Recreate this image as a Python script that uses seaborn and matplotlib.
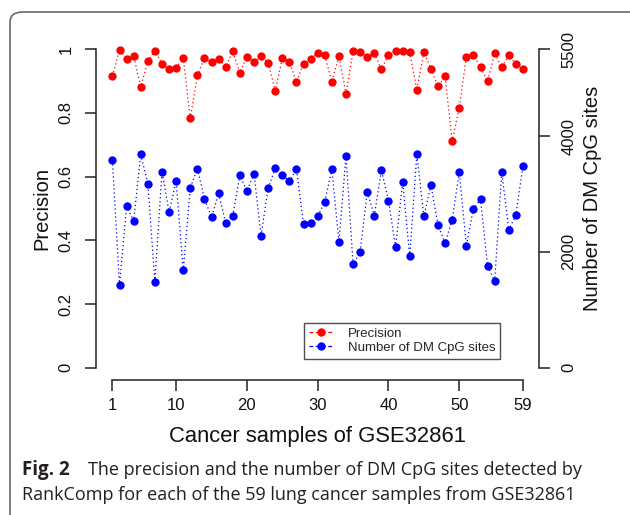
import numpy as np
import matplotlib
matplotlib.use("Agg")
import matplotlib.pyplot as plt
from matplotlib.lines import Line2D
from matplotlib.patches import FancyBboxPatch
import pandas as pd
import seaborn as sns

# ===============================
# DATA
# ===============================
samples = list(range(1, 60))

precision = [
    0.916, 0.999, 0.970, 0.979, 0.883, 0.963, 0.996, 0.955, 0.937, 0.942,
    0.973, 0.784, 0.918, 0.974, 0.961, 0.970, 0.945, 0.994, 0.926, 0.977,
    0.960, 0.980, 0.957, 0.870, 0.972, 0.961, 0.898, 0.955, 0.970, 0.988,
    0.981, 0.898, 0.980, 0.860, 0.994, 0.992, 0.975, 0.987, 0.937, 0.983,
    0.995, 0.995, 0.991, 0.872, 0.992, 0.938, 0.884, 0.915, 0.711, 0.817,
    0.975, 0.983, 0.943, 0.900, 0.987, 0.943, 0.982, 0.953, 0.937,
]

dm_sites = [
    3581, 1426, 2793, 2534, 3684, 3179, 1483, 3386, 2690, 3219,
    1679, 3110, 3438, 2920, 2598, 3012, 2500, 2621, 3322, 3051,
    3351, 2276, 3103, 3448, 3322, 3219, 3431, 2477, 2500, 2615,
    2862, 3426, 2172, 3662, 1783, 2007, 3034, 2627, 3414, 2886,
    2086, 3207, 1926, 3689, 2615, 3150, 2465, 2150, 2558, 3379,
    2110, 2748, 2908, 1759, 1495, 3379, 2374, 2645, 3483,
]

x_ticks = [1, 10, 20, 30, 40, 50, 59]
prec_ticks = [0, 0.2, 0.4, 0.6, 0.8, 1]
prec_tick_labels = ["0", "0.2", "0.4", "0.6", "0.8", "1"]
dm_ticks = [0, 2000, 4000, 5500]

df = pd.DataFrame({"sample": samples, "precision": precision, "dm": dm_sites})

# ===============================
# STYLE
# ===============================
sns.set_style("white")
plt.rcParams["font.family"] = ["Liberation Sans", "DejaVu Sans"]
AX_COL = "#222222"

fig = plt.figure(figsize=(6.3, 5.15), dpi=100)
W, H = 630.0, 515.0

# plot region in pixels (R style, 4% padding on the data range)
left, right, top, bottom = 96.0, 539.4, 36.6, 380.4
ax = fig.add_axes([left / W, 1 - bottom / H, (right - left) / W, (bottom - top) / H])
ax2 = ax.twinx()
ax.set_facecolor("none")

# ===============================
# SERIES
# ===============================
sns.lineplot(data=df, x="sample", y="precision", ax=ax, color="#ff0000",
             linestyle=(0, (1, 2.2)), linewidth=0.9, marker="o", markersize=6,
             markeredgewidth=0, markerfacecolor="#ff0000", zorder=3)
sns.lineplot(data=df, x="sample", y="dm", ax=ax2, color="#0000ff",
             linestyle=(0, (1, 2.2)), linewidth=0.9, marker="o", markersize=6,
             markeredgewidth=0, markerfacecolor="#0000ff", zorder=3)

# ===============================
# AXES
# ===============================
ax.set_xlim(1 - 58 * 0.04, 59 + 58 * 0.04)
ax.set_ylim(-0.04, 1.04)
ax2.set_ylim(-0.04 * 5500, 1.04 * 5500)

ax.set_xticks(x_ticks)
ax.set_xticklabels([str(t) for t in x_ticks])
ax.set_yticks(prec_ticks)
ax.set_yticklabels(prec_tick_labels, rotation=90, va="center")
ax2.set_yticks(dm_ticks)
ax2.set_yticklabels([str(t) for t in dm_ticks], rotation=90, va="center")

for s in ["top", "right"]:
    ax.spines[s].set_visible(False)
for s in ["top", "left", "bottom"]:
    ax2.spines[s].set_visible(False)
ax.spines["left"].set_bounds(0, 1)
ax.spines["bottom"].set_bounds(1, 59)
ax2.spines["right"].set_bounds(0, 5500)
for sp in [ax.spines["left"], ax.spines["bottom"], ax2.spines["right"]]:
    sp.set_color(AX_COL)
    sp.set_linewidth(1.1)

ax.tick_params(axis="both", which="major", length=8, width=1.1, color=AX_COL,
               labelsize=12, labelcolor="#111111", left=True, bottom=True)
ax.tick_params(axis="x", pad=5)
ax.tick_params(axis="y", pad=8)
ax2.tick_params(axis="y", length=8, width=1.1, color=AX_COL, labelsize=12,
                labelcolor="#111111", right=True, pad=8)

ax.set_xlabel("Cancer samples of GSE32861", fontsize=15.8, color="#111111")
ax.set_ylabel("Precision", fontsize=14.5, color="#111111")
ax2.set_ylabel("Number of DM CpG sites", fontsize=14.5, color="#111111")
ax.xaxis.set_label_coords(0.5, -0.1646)
ax.yaxis.set_label_coords((42 - left) / (right - left), 0.5)
ax2.yaxis.set_label_coords((592 - left) / (right - left), 0.53)
ax.xaxis.label.set_va("center")
ax.yaxis.label.set_va("center")
ax2.yaxis.label.set_va("center")
ax2.yaxis.label.set_rotation(90)

# ===============================
# LEGEND
# ===============================
handles = [
    Line2D([], [], color="#ff0000", linestyle=(0, (3, 2)), linewidth=0.9,
           marker="o", markersize=6, markeredgewidth=0),
    Line2D([], [], color="#0000ff", linestyle=(0, (3, 2)), linewidth=0.9,
           marker="o", markersize=6, markeredgewidth=0),
]
leg = ax2.legend(handles, ["Precision", "Number of DM CpG sites"],
                 loc="upper right", bbox_to_anchor=(0.911, 0.167),
                 borderaxespad=0, fontsize=9.5, frameon=True, fancybox=False,
                 handlelength=1.9, handletextpad=1.05, borderpad=0.35,
                 labelspacing=0.15)
leg.get_frame().set_edgecolor(AX_COL)
leg.get_frame().set_linewidth(1.0)

# ===============================
# PANEL FRAME + CAPTION
# ===============================
frame = FancyBboxPatch((10 / W, 1 - 540 / H), 650 / W, 528 / H,
                       boxstyle="round,pad=0,rounding_size=0.02",
                       transform=fig.transFigure, facecolor="none",
                       edgecolor="#6a6a6a", linewidth=1.2, clip_on=False)
fig.patches.append(frame)

cap_col = "#231f20"
fig.text(22 / W, 1 - 470 / H, "Fig. 2", fontsize=13.5, fontweight="bold",
         family=["Open Sans", "DejaVu Sans"], color=cap_col, va="center")
fig.text(88 / W, 1 - 470 / H,
         "The precision and the number of DM CpG sites detected by",
         fontsize=13, family=["Open Sans", "DejaVu Sans"], color=cap_col,
         va="center")
fig.text(22 / W, 1 - 495 / H,
         "RankComp for each of the 59 lung cancer samples from GSE32861",
         fontsize=13, family=["Open Sans", "DejaVu Sans"], color=cap_col,
         va="center")

fig.savefig("out.png", dpi=100)
